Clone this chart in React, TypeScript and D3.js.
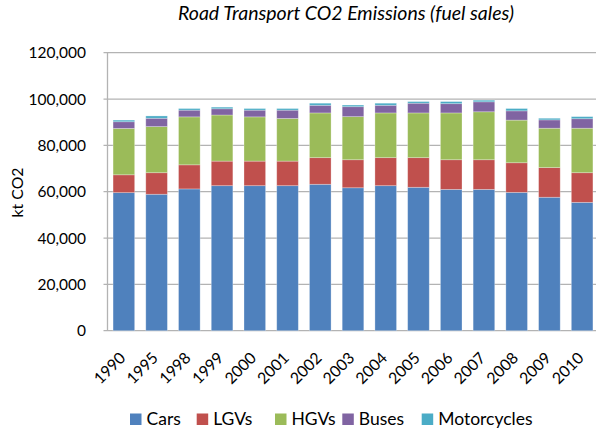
import React from 'react';
import * as d3 from 'd3';

const years = ['1990','1995','1998','1999','2000','2001','2002','2003','2004','2005','2006','2007','2008','2009','2010'];
const seriesNames = ['Cars','LGVs','HGVs','Buses','Motorcycles'];
const seriesColors = ['#4F81BD','#C0504D','#9BBB59','#8064A2','#4BACC6'];
const cars = [59600, 58900, 61200, 62600, 62600, 62600, 63200, 61700, 62600, 61900, 61000, 61000, 59700, 57600, 55400];
const lgvs = [7700, 9300, 10400, 10600, 10600, 10600, 11500, 12100, 12100, 12800, 12800, 12800, 12800, 12800, 12800];
const hgvs = [20000, 19900, 20700, 19900, 19100, 18400, 19300, 18600, 19300, 19300, 20200, 20700, 18400, 17000, 19200];
const buses = [2900, 3600, 2900, 2700, 2900, 3600, 3300, 4300, 3300, 4200, 4000, 4300, 4000, 3600, 4100];
const motorcycles = [700, 1000, 700, 700, 700, 700, 900, 700, 900, 700, 900, 700, 1000, 700, 900];
const yTicks = [0, 20000, 40000, 60000, 80000, 100000, 120000];
const legendX = [130, 196.7, 275, 342.3, 421.7];

const W = 596, H = 430;
const left = 107.5, right = 598.5, top = 52.7, bottom = 330.7;
const FONT = 'Lato, "Open Sans", sans-serif';

export default function App() {
  const rows = years.map((y, i) => ({
    year: y,
    Cars: cars[i], LGVs: lgvs[i], HGVs: hgvs[i], Buses: buses[i], Motorcycles: motorcycles[i],
  }));
  const stacked = d3.stack<any>().keys(seriesNames)(rows);
  const x = d3.scaleBand<string>().domain(years).range([left, right]).paddingInner(0.34).paddingOuter(0.17);
  const y = d3.scaleLinear().domain([0, 120000]).range([bottom, top]);
  const fmt = d3.format(',');
  const grid = '#b3b3b3';

  return (
    <svg width={W} height={H} style={{ position: 'absolute', left: 0, top: 0, background: '#fff' }}
      fontFamily={FONT}>
      <text x={346} y={20} textAnchor="middle" fontSize={19.5} fontStyle="italic" fill="#000">
        Road Transport CO2 Emissions (fuel sales)
      </text>
      {yTicks.map(t => (
        <g key={t}>
          <line x1={left - 4} x2={right} y1={y(t)} y2={y(t)} stroke={grid} strokeWidth={1.3} />
          <text x={86} y={y(t)} dy="0.36em" textAnchor="end" fontSize={15.5} fill="#000">{fmt(t)}</text>
        </g>
      ))}
      <line x1={left} x2={left} y1={top} y2={bottom} stroke={grid} strokeWidth={1.3} />
      {stacked.map((s, si) => (
        <g key={s.key} fill={seriesColors[si]}>
          {s.map((d, i) => (
            <rect key={i} x={x(years[i])} width={x.bandwidth()} y={y(d[1])} height={y(d[0]) - y(d[1])}
              stroke="rgba(255,255,255,0.35)" strokeWidth={0.8} />
          ))}
        </g>
      ))}
      {years.map(yr => (
        <text key={yr} transform={`translate(${(x(yr) as number) + x.bandwidth() / 2 + 2.5},359) rotate(-45)`}
          textAnchor="end" fontSize={15.8} fill="#000">{yr}</text>
      ))}
      <text transform="translate(22.5,192.5) rotate(-90)" textAnchor="middle" fontSize={15.8} fill="#000">kt CO2</text>
      {seriesNames.map((n, i) => (
        <g key={n}>
          <rect x={legendX[i]} y={413.5} width={11.5} height={11.5} fill={seriesColors[i]} />
          <text x={legendX[i] + 16.5} y={425} fontSize={17.5} fill="#000">{n}</text>
        </g>
      ))}
    </svg>
  );
}
